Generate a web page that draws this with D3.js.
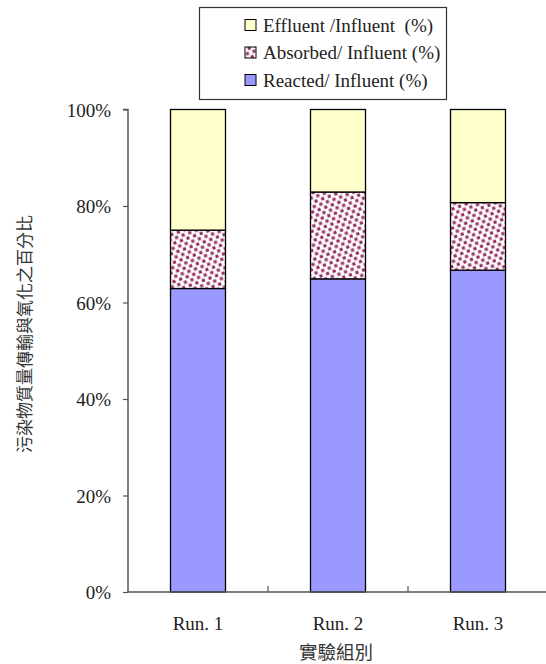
<!DOCTYPE html>
<html>
<head>
<meta charset="utf-8">
<script src="https://cdn.jsdelivr.net/npm/d3@7"></script>
<style>
  body { margin: 0; background: #fff; }
  svg { display: block; }
  .lat { font-family: "Liberation Serif", "DejaVu Serif", serif; white-space: pre; }
  .cjk { font-family: "Noto Sans CJK TC", "Noto Sans CJK SC", sans-serif; font-weight: 400; }
</style>
</head>
<body>
<svg id="chart" width="546" height="664"></svg>
<script>
// data
var runs = ["Run. 1", "Run. 2", "Run. 3"];
var reacted = [62.9, 64.9, 66.7];
var absorbed = [12.1, 18.0, 14.0];
var effluent = [25.0, 17.1, 19.3];
var yTicks = [0, 20, 40, 60, 80, 100];
var seriesNames = ["Effluent /Influent  (%)", "Absorbed/ Influent (%)", "Reacted/ Influent (%)"];

var svg = d3.select("#chart");

var margin = {left: 128, top: 109.5, right: -2, bottom: 72};
var width = 546 - margin.left - margin.right,
    height = 664 - margin.top - margin.bottom;

// dotted pattern for the absorbed part
var defs = svg.append("defs");
var pat = defs.append("pattern")
  .attr("id", "dots")
  .attr("patternUnits", "userSpaceOnUse")
  .attr("width", 7).attr("height", 9)
  .attr("patternTransform", "rotate(-20)");
pat.append("rect").attr("width", 7).attr("height", 9).attr("fill", "#fff");
pat.append("rect").attr("x", 0.3).attr("y", 0.3).attr("width", 3.2).attr("height", 3.2).attr("fill", "#993366");
pat.append("rect").attr("x", 3.8).attr("y", 4.8).attr("width", 3.2).attr("height", 3.2).attr("fill", "#993366");

var fills = {reacted: "#9999FF", absorbed: "url(#dots)", effluent: "#FFFFCC"};

var g = svg.append("g")
  .attr("transform", "translate(" + margin.left + "," + margin.top + ")");

var x = d3.scaleBand().domain(runs).range([0, width]).paddingInner(0).paddingOuter(0);
var y = d3.scaleLinear().domain([0, 100]).range([height, 0]);

var table = runs.map(function(r, i) {
  return {run: r, reacted: reacted[i], absorbed: absorbed[i], effluent: effluent[i]};
});
var stack = d3.stack().keys(["reacted", "absorbed", "effluent"]);
var layers = stack(table);

var barW = 55;
layers.forEach(function(layer) {
  g.selectAll("rect.s-" + layer.key)
    .data(layer)
    .enter()
    .append("rect")
    .attr("class", "s-" + layer.key)
    .attr("x", function(d) { return x(d.data.run) + x.bandwidth() / 2 - barW / 2; })
    .attr("width", barW)
    .attr("y", function(d) { return y(d[1]); })
    .attr("height", function(d) { return y(d[0]) - y(d[1]); })
    .attr("fill", fills[layer.key])
    .attr("stroke", "#000")
    .attr("stroke-width", 1.3);
});

// y axis
var yAxis = g.append("g")
  .call(d3.axisLeft(y).tickValues(yTicks).tickSize(5).tickFormat(function(d) { return d + "%"; }));
yAxis.select(".domain").attr("d", "M-5," + y(100) + "H0V" + y(0)).attr("stroke", "#555").attr("stroke-width", 1.5);
yAxis.selectAll(".tick line").attr("stroke", "#555").attr("stroke-width", 1.2);
yAxis.selectAll(".tick text")
  .attr("class", "lat")
  .attr("x", -17)
  .attr("dy", "0.35em")
  .style("font-size", "19px")
  .attr("fill", "#222");

// x axis
var xAxis = g.append("g")
  .attr("transform", "translate(0," + height + ")")
  .call(d3.axisBottom(x).tickSize(0).tickPadding(25));
xAxis.select(".domain").attr("d", "M0,0H" + (width + 4)).attr("stroke", "#555").attr("stroke-width", 1.5);
xAxis.selectAll(".tick text")
  .attr("class", "lat")
  .style("font-size", "19px")
  .attr("fill", "#222");
// category separator ticks
g.selectAll("line.sep")
  .data(runs.slice(1))
  .enter()
  .append("line")
  .attr("class", "sep")
  .attr("x1", function(d) { return x(d); })
  .attr("x2", function(d) { return x(d); })
  .attr("y1", height)
  .attr("y2", height - 6)
  .attr("stroke", "#555")
  .attr("stroke-width", 1.2);

// axis titles
svg.append("text")
  .attr("class", "cjk")
  .attr("transform", "translate(31,334) rotate(-90)")
  .attr("text-anchor", "middle")
  .style("font-size", "17px")
  .attr("fill", "#333")
  .text("污染物質量傳輸與氧化之百分比");

svg.append("text")
  .attr("class", "cjk")
  .attr("x", 336)
  .attr("y", 659)
  .attr("text-anchor", "middle")
  .style("font-size", "18.5px")
  .attr("fill", "#333")
  .text("實驗組別");

// legend
var legend = svg.append("g");
legend.append("rect")
  .attr("x", 199.5).attr("y", 7.5)
  .attr("width", 247).attr("height", 92)
  .attr("fill", "#fff").attr("stroke", "#333").attr("stroke-width", 1.2);

var legendFills = [fills.effluent, fills.absorbed, fills.reacted];
var item = legend.selectAll("g.item")
  .data(seriesNames)
  .enter()
  .append("g")
  .attr("class", "item")
  .attr("transform", function(d, i) { return "translate(245," + (25 + i * 27.5) + ")"; });
item.append("rect")
  .attr("x", 0).attr("y", -5.5)
  .attr("width", 11).attr("height", 11)
  .attr("fill", function(d, i) { return legendFills[i]; })
  .attr("stroke", "#000").attr("stroke-width", 1);
item.append("text")
  .attr("class", "lat")
  .attr("x", 18)
  .attr("dy", "0.35em")
  .style("font-size", "19px")
  .attr("fill", "#222")
  .text(function(d) { return d; });
</script>
</body>
</html>
